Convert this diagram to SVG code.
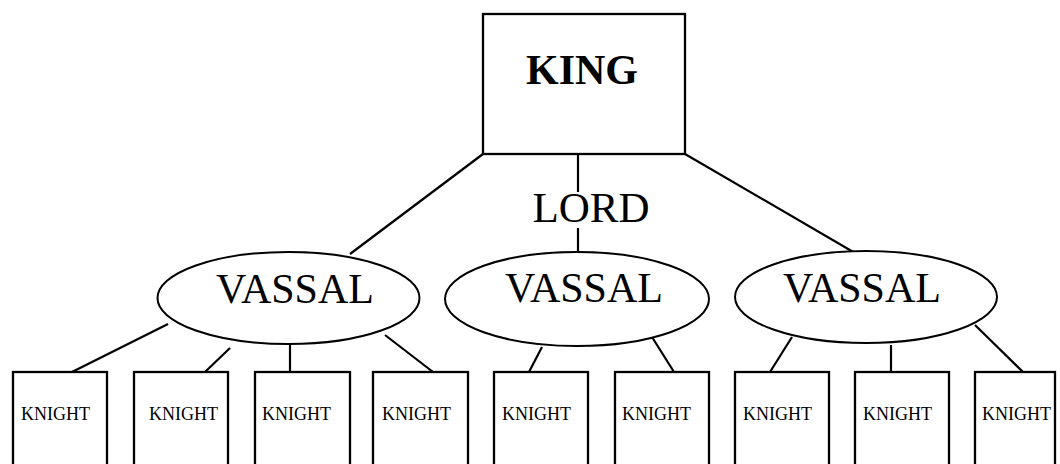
<svg xmlns="http://www.w3.org/2000/svg" width="1060" height="464" viewBox="0 0 1060 464">
<style>
.box{fill:#fff;stroke:#000;stroke-width:2.3}
.ell{fill:#fff;stroke:#000;stroke-width:2}
.ln{stroke:#000;stroke-width:2.2;fill:none}
.t{font-family:"Liberation Serif","Times New Roman",serif;fill:#000}
.kn{font-size:18px}
.vs{font-size:42px}
</style>
<rect width="1060" height="464" fill="#fff"/>
<g id="connectors">
<line class="ln" x1="483" y1="154" x2="350" y2="254"/>
<line class="ln" x1="685" y1="154" x2="855" y2="253"/>
<line class="ln" x1="578" y1="154" x2="578" y2="192"/>
<line class="ln" x1="578" y1="228" x2="578" y2="253"/>
<line class="ln" x1="168" y1="324" x2="72" y2="372"/>
<line class="ln" x1="230" y1="348" x2="205" y2="372"/>
<line class="ln" x1="290" y1="344" x2="290" y2="372"/>
<line class="ln" x1="385" y1="335" x2="433" y2="372"/>
<line class="ln" x1="542" y1="347" x2="529" y2="372"/>
<line class="ln" x1="652" y1="337" x2="674" y2="372"/>
<line class="ln" x1="792" y1="337" x2="770" y2="372"/>
<line class="ln" x1="891" y1="345" x2="891" y2="372"/>
<line class="ln" x1="975" y1="325" x2="1023" y2="372"/>
</g>
<g id="king">
<rect class="box" x="483" y="14" width="202" height="140"/>
<text class="t" x="582" y="84" font-size="42" font-weight="bold" text-anchor="middle">KING</text>
</g>
<g id="lord">
<text class="t" x="591" y="222" font-size="43" text-anchor="middle">LORD</text>
</g>
<g id="vassal1">
<ellipse class="ell" cx="288.5" cy="298" rx="131" ry="46"/>
<text class="t vs" x="295" y="303" text-anchor="middle">VASSAL</text>
</g>
<g id="vassal2">
<ellipse class="ell" cx="577" cy="299" rx="132" ry="47"/>
<text class="t vs" x="584" y="302" text-anchor="middle">VASSAL</text>
</g>
<g id="vassal3">
<ellipse class="ell" cx="866" cy="297" rx="131" ry="46"/>
<text class="t vs" x="862" y="302" text-anchor="middle">VASSAL</text>
</g>
<g id="knight1"><rect class="box" x="13" y="372" width="94" height="100"/><text class="t kn" x="21" y="420">KNIGHT</text></g>
<g id="knight2"><rect class="box" x="134" y="372" width="94" height="100"/><text class="t kn" x="149" y="420">KNIGHT</text></g>
<g id="knight3"><rect class="box" x="255" y="372" width="95" height="100"/><text class="t kn" x="262" y="420">KNIGHT</text></g>
<g id="knight4"><rect class="box" x="373" y="372" width="95" height="100"/><text class="t kn" x="382" y="420">KNIGHT</text></g>
<g id="knight5"><rect class="box" x="494" y="372" width="94" height="100"/><text class="t kn" x="502" y="420">KNIGHT</text></g>
<g id="knight6"><rect class="box" x="615" y="372" width="94" height="100"/><text class="t kn" x="622" y="420">KNIGHT</text></g>
<g id="knight7"><rect class="box" x="735" y="372" width="94" height="100"/><text class="t kn" x="743" y="420">KNIGHT</text></g>
<g id="knight8"><rect class="box" x="855" y="372" width="94" height="100"/><text class="t kn" x="863" y="420">KNIGHT</text></g>
<g id="knight9"><rect class="box" x="975" y="372" width="80" height="100"/><text class="t kn" x="982" y="420">KNIGHT</text></g>
</svg>
